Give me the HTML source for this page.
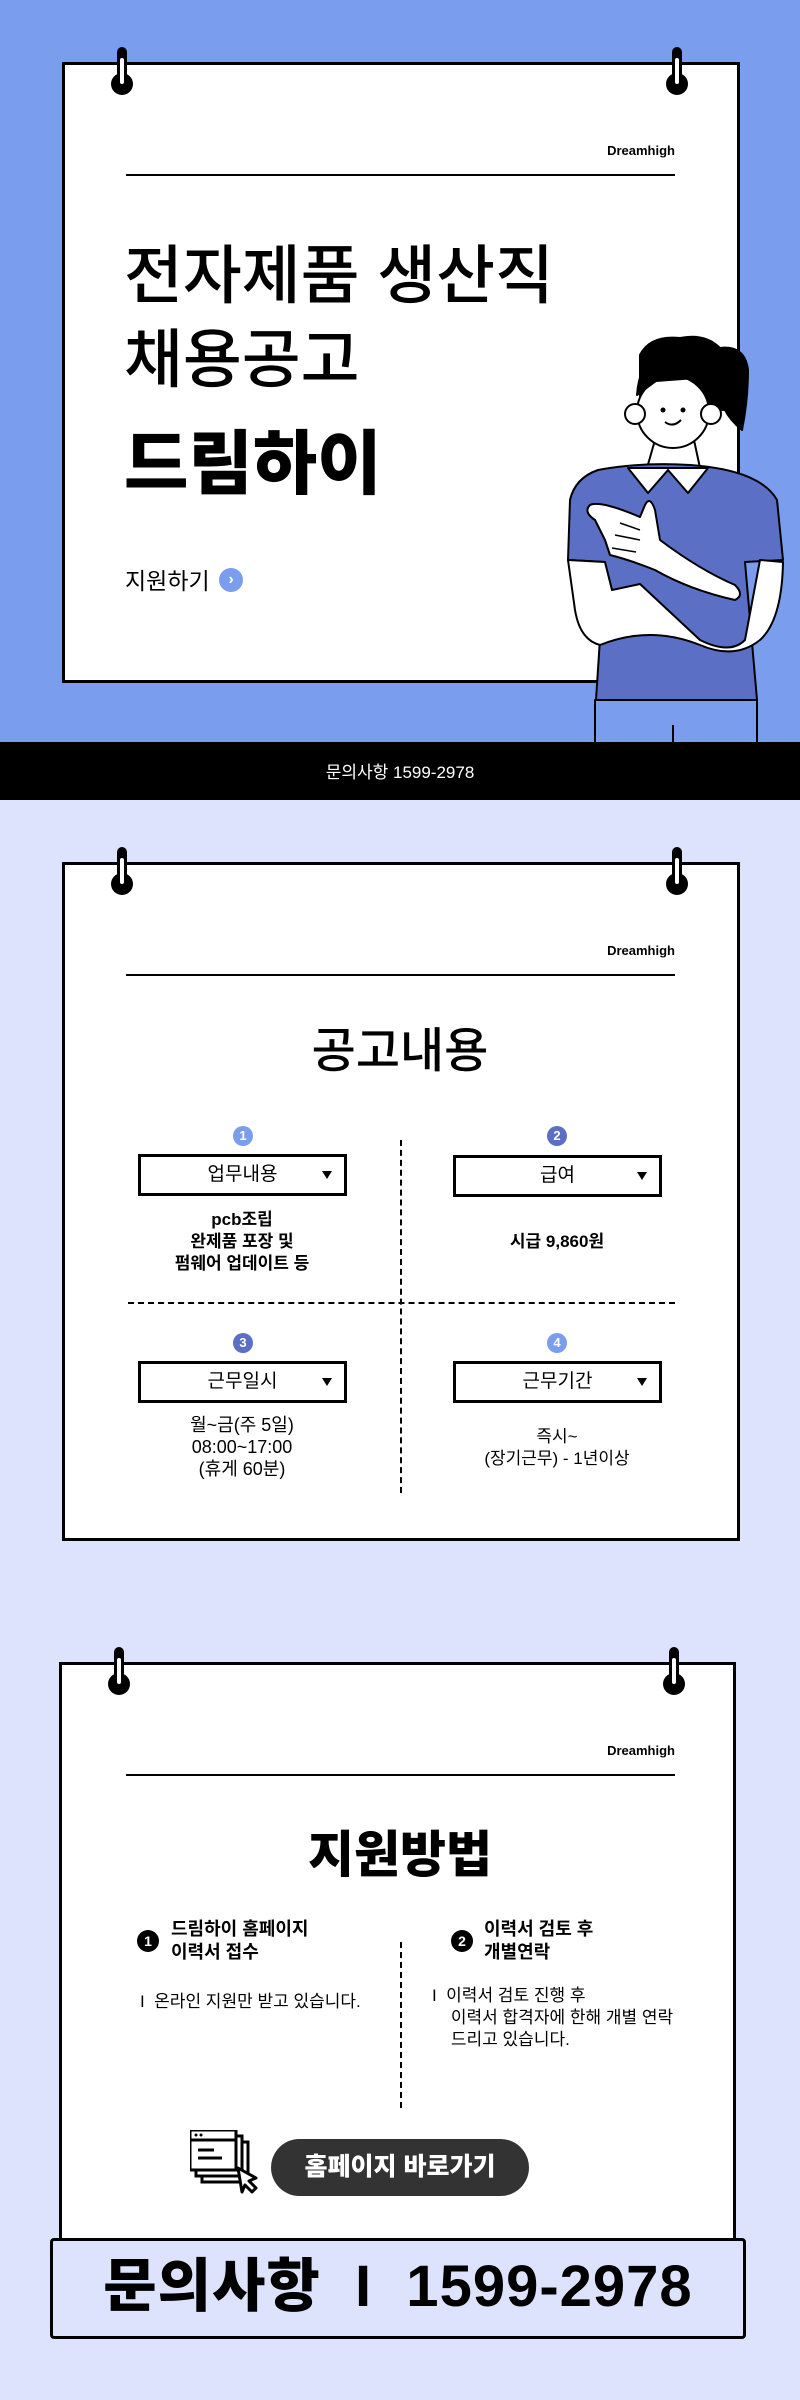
<!DOCTYPE html>
<html><head><meta charset="utf-8">
<style>
*{margin:0;padding:0;box-sizing:border-box}
body{width:800px;height:2400px;position:relative;overflow:hidden;font-family:"Liberation Sans","Noto Sans CJK KR",sans-serif;color:#000}
.abs{position:absolute}
.card{position:absolute;background:#fff;border:3px solid #000}
.dh{position:absolute;font-size:13px;font-weight:bold;width:200px;text-align:right}
.ln{position:absolute;height:2px;background:#000}
.t{position:absolute;white-space:nowrap}
.c{text-align:center}
.box{position:absolute;width:209px;height:42px;border:3px solid #000;background:#fff;font-size:19px;text-align:center;line-height:36px}
.box:after{content:"";position:absolute;right:12px;top:14px;border-left:5px solid transparent;border-right:5px solid transparent;border-top:8px solid #000}
.num{position:absolute;width:20px;height:20px;border-radius:50%;color:#fff;font-size:13px;font-weight:bold;text-align:center;line-height:20px}
.desc{position:absolute;width:260px;text-align:center;font-size:17px;font-weight:bold;line-height:22px}
</style></head><body>
<!-- section 1 -->
<div class="abs" style="left:0;top:0;width:800px;height:742px;background:#7a9ded"></div>
<div class="card" style="left:62px;top:62px;width:678px;height:621px"></div>
<div class="dh" style="left:475px;top:143px">Dreamhigh</div>
<div class="ln" style="left:126px;top:174px;width:549px"></div>
<div class="t" style="left:124px;top:236px;font-size:64px;line-height:80px;font-weight:500">전자제품 생산직</div>
<div class="t" style="left:124px;top:320px;font-size:64px;line-height:80px;font-weight:500">채용공고</div>
<div class="t" style="left:124px;top:424px;font-size:70px;line-height:80px;font-weight:900">드림하이</div>
<div class="t" style="left:125px;top:562px;font-size:23px">지원하기</div>
<div class="abs" style="left:219px;top:568px;width:24px;height:24px;border-radius:50%;background:#7a9ded;color:#fff;font-weight:bold;font-size:16px;text-align:center;line-height:23px">›</div>
<svg class="abs" style="left:0;top:0" width="800" height="742">
<g fill="#000"><rect x="117" y="47" width="10" height="38" rx="5"/><circle cx="122" cy="84" r="11"/><rect x="672" y="47" width="10" height="38" rx="5"/><circle cx="677" cy="84" r="11"/></g>
<g fill="#fff"><rect x="120" y="58" width="4" height="26" rx="2"/><rect x="675" y="58" width="4" height="26" rx="2"/></g>
<g stroke="#000" stroke-width="2" stroke-linejoin="round">
<rect x="595" y="700" width="162" height="44" fill="#7a9ded"/>
<line x1="673" y1="725" x2="673" y2="742"/>
<path d="M655 440 L647 468 L700 468 L694 440 Z" fill="#fff"/>
<path d="M598 470 Q640 462 690 465 Q760 470 777 500 L783 560 L745 562 L757 700 L596 700 L605 562 L568 560 L570 500 Q575 478 598 470Z" fill="#5b6fc4"/>
<path d="M628 468 L648 493 L668 470 L688 493 L708 468 Z" fill="#fff"/>
<path d="M568 560 L605 562 L612 590 L640 584 L700 640 Q730 655 745 640 L760 560 L783 562 Q782 620 760 640 Q735 660 700 645 Q650 625 600 645 Q580 640 575 610 Z" fill="#fff"/>
<path d="M590 505 Q600 500 640 517 L645 505 Q650 495 655 510 L660 540 Q700 570 735 585 Q745 595 735 600 Q690 590 655 570 Q630 560 610 555 L605 540 L595 520 Q583 512 590 505Z" fill="#fff"/>
<path d="M615 535 L640 540 M612 548 L636 552 M620 523 L640 530" fill="none" stroke-width="1.5"/>
<path d="M640 355 Q650 335 680 338 Q705 333 720 348 Q745 345 748 370 Q748 400 742 430 Q730 420 725 410 L640 405 Z" fill="#000"/>
<circle cx="673" cy="412" r="36" fill="#fff"/>
<circle cx="635" cy="414" r="10" fill="#fff"/><circle cx="711" cy="414" r="10" fill="#fff"/>
<path d="M637 395 Q640 350 680 348 Q712 350 712 395 L696 378 L656 381 Z" fill="#000"/>
<path d="M665 422 Q673 428 681 420" fill="none"/>
</g>
<circle cx="663" cy="410" r="2.5"/><circle cx="683" cy="410" r="2.5"/>
</svg>
<div class="abs" style="left:0;top:742px;width:800px;height:58px;background:#000"></div>
<div class="t c" style="left:0;width:800px;top:758px;color:#fff;font-size:17px">문의사항 1599-2978</div>

<!-- section 2 -->
<div class="abs" style="left:0;top:800px;width:800px;height:1600px;background:#dde3fd"></div>
<div class="card" style="left:62px;top:862px;width:678px;height:679px"></div>
<svg class="abs" style="left:0;top:800px" width="800" height="100">
<g fill="#000"><rect x="117" y="47" width="10" height="38" rx="5"/><circle cx="122" cy="84" r="11"/><rect x="672" y="47" width="10" height="38" rx="5"/><circle cx="677" cy="84" r="11"/></g>
<g fill="#fff"><rect x="120" y="58" width="4" height="26" rx="2"/><rect x="675" y="58" width="4" height="26" rx="2"/></g></svg>
<div class="dh" style="left:475px;top:943px">Dreamhigh</div>
<div class="ln" style="left:126px;top:974px;width:549px"></div>
<div class="t c" style="left:0;width:800px;top:1022px;font-size:48px;line-height:60px;font-weight:500">공고내용</div>
<div class="abs" style="left:400px;top:1140px;height:353px;border-left:2px dashed #000"></div>
<div class="abs" style="left:128px;top:1302px;width:547px;border-top:2px dashed #000"></div>
<div class="num" style="left:233px;top:1126px;background:#7a9ded">1</div>
<div class="num" style="left:547px;top:1126px;background:#5b6fc4">2</div>
<div class="num" style="left:233px;top:1333px;background:#5b6fc4">3</div>
<div class="num" style="left:547px;top:1333px;background:#7a9ded">4</div>
<div class="box" style="left:138px;top:1154px">업무내용</div>
<div class="box" style="left:453px;top:1155px">급여</div>
<div class="box" style="left:138px;top:1361px">근무일시</div>
<div class="box" style="left:453px;top:1361px">근무기간</div>
<div class="desc" style="left:112px;top:1209px">pcb조립<br>완제품 포장 및<br>펌웨어 업데이트 등</div>
<div class="desc" style="left:427px;top:1231px">시급 9,860원</div>
<div class="desc" style="left:112px;top:1414px;font-weight:normal;font-size:18px">월~금(주 5일)<br>08:00~17:00<br>(휴게 60분)</div>
<div class="desc" style="left:427px;top:1426px;font-weight:normal">즉시~<br>(장기근무) - 1년이상</div>

<!-- section 3 -->
<div class="card" style="left:59px;top:1662px;width:677px;height:600px"></div>
<svg class="abs" style="left:-3px;top:1600px" width="800" height="100">
<g fill="#000"><rect x="117" y="47" width="10" height="38" rx="5"/><circle cx="122" cy="84" r="11"/><rect x="672" y="47" width="10" height="38" rx="5"/><circle cx="677" cy="84" r="11"/></g>
<g fill="#fff"><rect x="120" y="58" width="4" height="26" rx="2"/><rect x="675" y="58" width="4" height="26" rx="2"/></g></svg>
<div class="dh" style="left:475px;top:1743px">Dreamhigh</div>
<div class="ln" style="left:126px;top:1774px;width:549px"></div>
<div class="t c" style="left:0;width:800px;top:1825px;font-size:50px;line-height:60px;font-weight:900">지원방법</div>
<div class="abs" style="left:137px;top:1930px;width:22px;height:22px;border-radius:50%;background:#000;color:#fff;font-size:14px;font-weight:bold;text-align:center;line-height:22px">1</div>
<div class="abs" style="left:451px;top:1930px;width:22px;height:22px;border-radius:50%;background:#000;color:#fff;font-size:14px;font-weight:bold;text-align:center;line-height:22px">2</div>
<div class="t" style="left:171px;top:1918px;font-size:18px;font-weight:bold;line-height:23px">드림하이 홈페이지<br>이력서 접수</div>
<div class="t" style="left:484px;top:1918px;font-size:18px;font-weight:bold;line-height:23px">이력서 검토 후<br>개별연락</div>
<div class="abs" style="left:400px;top:1942px;height:166px;border-left:2px dashed #000"></div>
<div class="t" style="left:140px;top:1987px;font-size:17px">I&nbsp; 온라인 지원만 받고 있습니다.</div>
<div class="t" style="left:432px;top:1985px;font-size:17px;line-height:22px">I&nbsp; 이력서 검토 진행 후<br>&nbsp;&nbsp;&nbsp; 이력서 합격자에 한해 개별 연락<br>&nbsp;&nbsp;&nbsp; 드리고 있습니다.</div>
<svg class="abs" style="left:190px;top:2130px" width="75" height="70">
<g fill="#fff" stroke="#000" stroke-width="3">
<rect x="12" y="12" width="46" height="40"/><rect x="6" y="6" width="46" height="40"/><rect x="0" y="0" width="46" height="40"/>
<line x1="0" y1="10" x2="46" y2="10"/>
<line x1="8" y1="20" x2="24" y2="20"/><line x1="8" y1="28" x2="32" y2="28"/>
<path d="M48 38 L66 48 L59 51 L66 58 L62 62 L55 55 L52 62 Z" stroke-linejoin="round"/>
</g><circle cx="6" cy="5" r="1.5"/><circle cx="11" cy="5" r="1.5"/></svg>
<div class="abs" style="left:271px;top:2139px;width:258px;height:57px;border-radius:29px;background:#333;color:#fff;font-size:25px;font-weight:900;text-align:center;line-height:57px">홈페이지 바로가기</div>
<div class="abs" style="left:50px;top:2238px;width:696px;height:101px;background:#dde3fd;border:3px solid #000;border-radius:4px"></div>
<div class="t c" style="left:50px;width:696px;top:2254px;font-size:58px;line-height:66px;font-weight:900;letter-spacing:1px">문의사항 &nbsp;I&nbsp; 1599-2978</div>
</body></html>
